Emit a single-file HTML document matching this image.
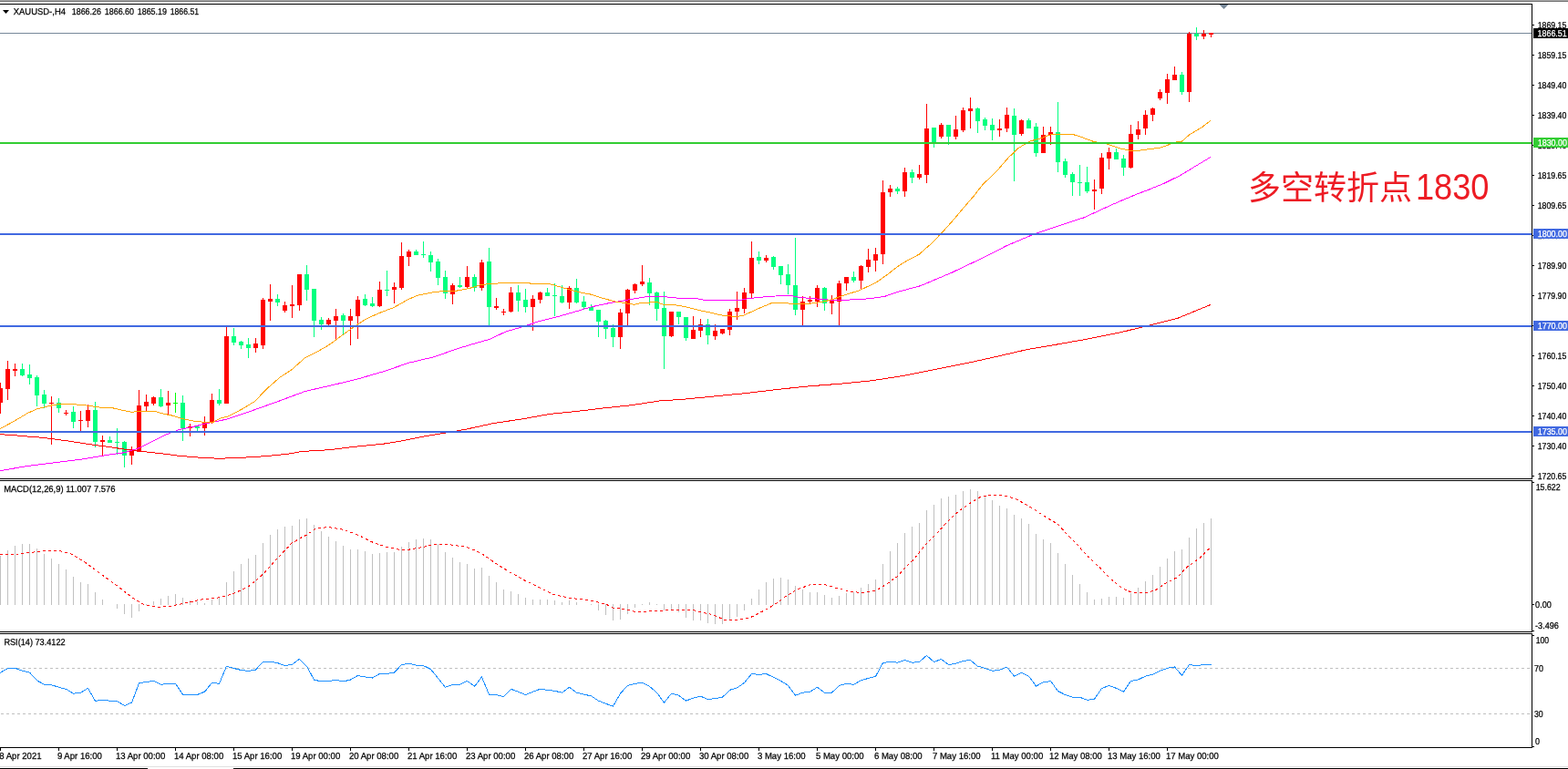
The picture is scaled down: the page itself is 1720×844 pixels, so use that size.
<!DOCTYPE html>
<html><head><meta charset="utf-8"><title>XAUUSD H4</title>
<style>html,body{margin:0;padding:0;background:#fff;width:1720px;height:844px;overflow:hidden}svg{display:block}</style>
</head><body>
<svg width="1720" height="844" viewBox="0 0 1720 844" shape-rendering="crispEdges">
<rect x="0" y="0" width="1720" height="844" fill="#FFFFFF"/>
<rect x="0" y="0" width="1720" height="1" fill="#A9A9A9"/>
<rect x="0" y="1" width="1720" height="1" fill="#707070"/>
<rect x="0" y="36" width="1680" height="1" fill="#778899"/>
<rect x="0" y="420" width="1" height="34" fill="#FF0000"/>
<rect x="0" y="426" width="3" height="16" fill="#FF0000"/>
<rect x="8" y="396" width="1" height="43" fill="#FF0000"/>
<rect x="6" y="405" width="5" height="22" fill="#FF0000"/>
<rect x="16" y="399" width="1" height="14" fill="#FF0000"/>
<rect x="14" y="405" width="5" height="2" fill="#FF0000"/>
<rect x="24" y="399" width="1" height="14" fill="#00FF7F"/>
<rect x="22" y="405" width="5" height="7" fill="#00FF7F"/>
<rect x="32" y="400" width="1" height="22" fill="#00FF7F"/>
<rect x="30" y="411" width="5" height="4" fill="#00FF7F"/>
<rect x="40" y="412" width="1" height="34" fill="#00FF7F"/>
<rect x="38" y="414" width="5" height="20" fill="#00FF7F"/>
<rect x="48" y="428" width="1" height="20" fill="#00FF7F"/>
<rect x="46" y="433" width="5" height="10" fill="#00FF7F"/>
<rect x="56" y="435" width="1" height="53" fill="#FF0000"/>
<rect x="54" y="442" width="5" height="1" fill="#FF0000"/>
<rect x="64" y="437" width="1" height="16" fill="#00FF7F"/>
<rect x="62" y="442" width="5" height="6" fill="#00FF7F"/>
<rect x="72" y="450" width="1" height="6" fill="#FF0000"/>
<rect x="70" y="453" width="5" height="1" fill="#FF0000"/>
<rect x="80" y="446" width="1" height="24" fill="#00FF7F"/>
<rect x="78" y="452" width="5" height="11" fill="#00FF7F"/>
<rect x="88" y="451" width="1" height="22" fill="#FF0000"/>
<rect x="86" y="461" width="5" height="1" fill="#FF0000"/>
<rect x="96" y="444" width="1" height="25" fill="#FF0000"/>
<rect x="94" y="450" width="5" height="12" fill="#FF0000"/>
<rect x="104" y="441" width="1" height="50" fill="#00FF7F"/>
<rect x="102" y="450" width="5" height="35" fill="#00FF7F"/>
<rect x="112" y="478" width="1" height="23" fill="#FF0000"/>
<rect x="110" y="483" width="5" height="2" fill="#FF0000"/>
<rect x="120" y="479" width="1" height="7" fill="#00FF7F"/>
<rect x="118" y="483" width="5" height="3" fill="#00FF7F"/>
<rect x="128" y="470" width="1" height="29" fill="#00FF7F"/>
<rect x="126" y="485" width="5" height="1" fill="#00FF7F"/>
<rect x="136" y="484" width="1" height="29" fill="#00FF7F"/>
<rect x="134" y="485" width="5" height="15" fill="#00FF7F"/>
<rect x="144" y="490" width="1" height="20" fill="#FF0000"/>
<rect x="142" y="494" width="5" height="6" fill="#FF0000"/>
<rect x="152" y="428" width="1" height="68" fill="#FF0000"/>
<rect x="150" y="445" width="5" height="51" fill="#FF0000"/>
<rect x="160" y="433" width="1" height="19" fill="#FF0000"/>
<rect x="158" y="441" width="5" height="5" fill="#FF0000"/>
<rect x="168" y="435" width="1" height="10" fill="#FF0000"/>
<rect x="166" y="436" width="5" height="7" fill="#FF0000"/>
<rect x="176" y="427" width="1" height="20" fill="#00FF7F"/>
<rect x="174" y="436" width="5" height="10" fill="#00FF7F"/>
<rect x="184" y="429" width="1" height="26" fill="#FF0000"/>
<rect x="182" y="442" width="5" height="3" fill="#FF0000"/>
<rect x="192" y="431" width="1" height="22" fill="#00FF00"/>
<rect x="190" y="442" width="5" height="1" fill="#00FF00"/>
<rect x="200" y="434" width="1" height="50" fill="#00FF7F"/>
<rect x="198" y="442" width="5" height="28" fill="#00FF7F"/>
<rect x="208" y="465" width="1" height="14" fill="#FF0000"/>
<rect x="206" y="468" width="5" height="2" fill="#FF0000"/>
<rect x="216" y="468" width="1" height="5" fill="#00FF7F"/>
<rect x="214" y="468" width="5" height="2" fill="#00FF7F"/>
<rect x="224" y="457" width="1" height="21" fill="#FF0000"/>
<rect x="222" y="464" width="5" height="6" fill="#FF0000"/>
<rect x="232" y="432" width="1" height="33" fill="#FF0000"/>
<rect x="230" y="439" width="5" height="25" fill="#FF0000"/>
<rect x="240" y="427" width="1" height="18" fill="#00FF7F"/>
<rect x="238" y="439" width="5" height="4" fill="#00FF7F"/>
<rect x="248" y="358" width="1" height="85" fill="#FF0000"/>
<rect x="246" y="369" width="5" height="74" fill="#FF0000"/>
<rect x="256" y="360" width="1" height="19" fill="#00FF7F"/>
<rect x="254" y="369" width="5" height="7" fill="#00FF7F"/>
<rect x="264" y="374" width="1" height="9" fill="#00FF7F"/>
<rect x="262" y="375" width="5" height="4" fill="#00FF7F"/>
<rect x="272" y="371" width="1" height="22" fill="#00FF7F"/>
<rect x="270" y="378" width="5" height="4" fill="#00FF7F"/>
<rect x="280" y="371" width="1" height="16" fill="#FF0000"/>
<rect x="278" y="377" width="5" height="5" fill="#FF0000"/>
<rect x="288" y="327" width="1" height="56" fill="#FF0000"/>
<rect x="286" y="329" width="5" height="50" fill="#FF0000"/>
<rect x="296" y="312" width="1" height="40" fill="#FF0000"/>
<rect x="294" y="328" width="5" height="3" fill="#FF0000"/>
<rect x="304" y="323" width="1" height="13" fill="#00FF7F"/>
<rect x="302" y="328" width="5" height="4" fill="#00FF7F"/>
<rect x="312" y="331" width="1" height="12" fill="#FF0000"/>
<rect x="310" y="335" width="5" height="6" fill="#FF0000"/>
<rect x="320" y="313" width="1" height="36" fill="#FF0000"/>
<rect x="318" y="334" width="5" height="2" fill="#FF0000"/>
<rect x="328" y="301" width="1" height="40" fill="#FF0000"/>
<rect x="326" y="301" width="5" height="34" fill="#FF0000"/>
<rect x="336" y="291" width="1" height="39" fill="#00FF7F"/>
<rect x="334" y="301" width="5" height="17" fill="#00FF7F"/>
<rect x="344" y="317" width="1" height="53" fill="#00FF7F"/>
<rect x="342" y="317" width="5" height="35" fill="#00FF7F"/>
<rect x="352" y="348" width="1" height="14" fill="#00FF7F"/>
<rect x="350" y="351" width="5" height="5" fill="#00FF7F"/>
<rect x="360" y="349" width="1" height="8" fill="#FF0000"/>
<rect x="358" y="351" width="5" height="5" fill="#FF0000"/>
<rect x="368" y="339" width="1" height="34" fill="#FF0000"/>
<rect x="366" y="347" width="5" height="5" fill="#FF0000"/>
<rect x="376" y="344" width="1" height="24" fill="#00FF7F"/>
<rect x="374" y="346" width="5" height="6" fill="#00FF7F"/>
<rect x="384" y="339" width="1" height="40" fill="#FF0000"/>
<rect x="382" y="347" width="5" height="5" fill="#FF0000"/>
<rect x="392" y="325" width="1" height="47" fill="#FF0000"/>
<rect x="390" y="329" width="5" height="18" fill="#FF0000"/>
<rect x="400" y="323" width="1" height="13" fill="#00FF7F"/>
<rect x="398" y="328" width="5" height="7" fill="#00FF7F"/>
<rect x="408" y="326" width="1" height="11" fill="#00FF7F"/>
<rect x="406" y="333" width="5" height="3" fill="#00FF7F"/>
<rect x="416" y="309" width="1" height="28" fill="#FF0000"/>
<rect x="414" y="318" width="5" height="18" fill="#FF0000"/>
<rect x="424" y="297" width="1" height="28" fill="#00FF7F"/>
<rect x="422" y="318" width="5" height="1" fill="#00FF7F"/>
<rect x="432" y="310" width="1" height="23" fill="#FF0000"/>
<rect x="430" y="315" width="5" height="3" fill="#FF0000"/>
<rect x="440" y="266" width="1" height="52" fill="#FF0000"/>
<rect x="438" y="281" width="5" height="35" fill="#FF0000"/>
<rect x="448" y="274" width="1" height="18" fill="#FF0000"/>
<rect x="446" y="276" width="5" height="6" fill="#FF0000"/>
<rect x="456" y="274" width="1" height="6" fill="#00FF7F"/>
<rect x="454" y="276" width="5" height="4" fill="#00FF7F"/>
<rect x="464" y="265" width="1" height="18" fill="#00FF7F"/>
<rect x="462" y="279" width="5" height="1" fill="#00FF7F"/>
<rect x="472" y="276" width="1" height="22" fill="#00FF7F"/>
<rect x="470" y="280" width="5" height="8" fill="#00FF7F"/>
<rect x="480" y="284" width="1" height="29" fill="#00FF7F"/>
<rect x="478" y="287" width="5" height="18" fill="#00FF7F"/>
<rect x="488" y="297" width="1" height="31" fill="#00FF7F"/>
<rect x="486" y="304" width="5" height="18" fill="#00FF7F"/>
<rect x="496" y="311" width="1" height="23" fill="#FF0000"/>
<rect x="494" y="313" width="5" height="10" fill="#FF0000"/>
<rect x="504" y="304" width="1" height="12" fill="#00FF7F"/>
<rect x="502" y="313" width="5" height="2" fill="#00FF7F"/>
<rect x="512" y="292" width="1" height="24" fill="#FF0000"/>
<rect x="510" y="304" width="5" height="11" fill="#FF0000"/>
<rect x="520" y="301" width="1" height="19" fill="#00FF7F"/>
<rect x="518" y="304" width="5" height="12" fill="#00FF7F"/>
<rect x="528" y="285" width="1" height="34" fill="#FF0000"/>
<rect x="526" y="288" width="5" height="28" fill="#FF0000"/>
<rect x="536" y="272" width="1" height="85" fill="#00FF7F"/>
<rect x="534" y="287" width="5" height="50" fill="#00FF7F"/>
<rect x="544" y="327" width="1" height="13" fill="#FF0000"/>
<rect x="542" y="336" width="5" height="2" fill="#FF0000"/>
<rect x="552" y="339" width="1" height="7" fill="#FF0000"/>
<rect x="550" y="342" width="5" height="1" fill="#FF0000"/>
<rect x="560" y="315" width="1" height="28" fill="#FF0000"/>
<rect x="558" y="321" width="5" height="21" fill="#FF0000"/>
<rect x="568" y="313" width="1" height="29" fill="#00FF7F"/>
<rect x="566" y="321" width="5" height="9" fill="#00FF7F"/>
<rect x="576" y="317" width="1" height="26" fill="#00FF7F"/>
<rect x="574" y="329" width="5" height="8" fill="#00FF7F"/>
<rect x="584" y="324" width="1" height="39" fill="#FF0000"/>
<rect x="582" y="328" width="5" height="9" fill="#FF0000"/>
<rect x="592" y="320" width="1" height="13" fill="#FF0000"/>
<rect x="590" y="321" width="5" height="8" fill="#FF0000"/>
<rect x="600" y="316" width="1" height="9" fill="#00FF7F"/>
<rect x="598" y="321" width="5" height="4" fill="#00FF7F"/>
<rect x="608" y="311" width="1" height="36" fill="#00FF7F"/>
<rect x="606" y="324" width="5" height="1" fill="#00FF7F"/>
<rect x="616" y="313" width="1" height="20" fill="#00FF7F"/>
<rect x="614" y="325" width="5" height="7" fill="#00FF7F"/>
<rect x="624" y="314" width="1" height="25" fill="#FF0000"/>
<rect x="622" y="316" width="5" height="16" fill="#FF0000"/>
<rect x="632" y="306" width="1" height="27" fill="#00FF7F"/>
<rect x="630" y="316" width="5" height="16" fill="#00FF7F"/>
<rect x="640" y="325" width="1" height="15" fill="#00FF7F"/>
<rect x="638" y="331" width="5" height="6" fill="#00FF7F"/>
<rect x="648" y="334" width="1" height="7" fill="#00FF7F"/>
<rect x="646" y="337" width="5" height="4" fill="#00FF7F"/>
<rect x="656" y="340" width="1" height="30" fill="#00FF7F"/>
<rect x="654" y="340" width="5" height="13" fill="#00FF7F"/>
<rect x="664" y="351" width="1" height="21" fill="#00FF7F"/>
<rect x="662" y="352" width="5" height="9" fill="#00FF7F"/>
<rect x="672" y="356" width="1" height="25" fill="#00FF7F"/>
<rect x="670" y="360" width="5" height="10" fill="#00FF7F"/>
<rect x="680" y="339" width="1" height="44" fill="#FF0000"/>
<rect x="678" y="343" width="5" height="27" fill="#FF0000"/>
<rect x="688" y="317" width="1" height="40" fill="#FF0000"/>
<rect x="686" y="318" width="5" height="26" fill="#FF0000"/>
<rect x="696" y="311" width="1" height="11" fill="#FF0000"/>
<rect x="694" y="312" width="5" height="7" fill="#FF0000"/>
<rect x="704" y="291" width="1" height="23" fill="#FF0000"/>
<rect x="702" y="309" width="5" height="3" fill="#FF0000"/>
<rect x="712" y="305" width="1" height="30" fill="#00FF7F"/>
<rect x="710" y="310" width="5" height="12" fill="#00FF7F"/>
<rect x="720" y="320" width="1" height="32" fill="#00FF7F"/>
<rect x="718" y="321" width="5" height="18" fill="#00FF7F"/>
<rect x="728" y="320" width="1" height="85" fill="#00FF7F"/>
<rect x="726" y="338" width="5" height="31" fill="#00FF7F"/>
<rect x="736" y="342" width="1" height="28" fill="#FF0000"/>
<rect x="734" y="342" width="5" height="27" fill="#FF0000"/>
<rect x="744" y="342" width="1" height="14" fill="#00FF7F"/>
<rect x="742" y="342" width="5" height="6" fill="#00FF7F"/>
<rect x="752" y="348" width="1" height="26" fill="#00FF7F"/>
<rect x="750" y="348" width="5" height="23" fill="#00FF7F"/>
<rect x="760" y="347" width="1" height="25" fill="#FF0000"/>
<rect x="758" y="362" width="5" height="10" fill="#FF0000"/>
<rect x="768" y="350" width="1" height="20" fill="#FF0000"/>
<rect x="766" y="356" width="5" height="7" fill="#FF0000"/>
<rect x="776" y="350" width="1" height="28" fill="#00FF7F"/>
<rect x="774" y="356" width="5" height="12" fill="#00FF7F"/>
<rect x="784" y="356" width="1" height="17" fill="#FF0000"/>
<rect x="782" y="363" width="5" height="6" fill="#FF0000"/>
<rect x="792" y="361" width="1" height="6" fill="#FF0000"/>
<rect x="790" y="361" width="5" height="5" fill="#FF0000"/>
<rect x="800" y="339" width="1" height="29" fill="#FF0000"/>
<rect x="798" y="342" width="5" height="20" fill="#FF0000"/>
<rect x="808" y="320" width="1" height="31" fill="#FF0000"/>
<rect x="806" y="338" width="5" height="4" fill="#FF0000"/>
<rect x="816" y="316" width="1" height="28" fill="#FF0000"/>
<rect x="814" y="321" width="5" height="18" fill="#FF0000"/>
<rect x="824" y="265" width="1" height="62" fill="#FF0000"/>
<rect x="822" y="283" width="5" height="39" fill="#FF0000"/>
<rect x="832" y="276" width="1" height="14" fill="#00FF7F"/>
<rect x="830" y="282" width="5" height="4" fill="#00FF7F"/>
<rect x="840" y="280" width="1" height="8" fill="#FF0000"/>
<rect x="838" y="283" width="5" height="3" fill="#FF0000"/>
<rect x="848" y="281" width="1" height="15" fill="#00FF7F"/>
<rect x="846" y="282" width="5" height="11" fill="#00FF7F"/>
<rect x="856" y="292" width="1" height="20" fill="#00FF7F"/>
<rect x="854" y="292" width="5" height="10" fill="#00FF7F"/>
<rect x="864" y="290" width="1" height="33" fill="#00FF7F"/>
<rect x="862" y="301" width="5" height="12" fill="#00FF7F"/>
<rect x="872" y="261" width="1" height="85" fill="#00FF7F"/>
<rect x="870" y="313" width="5" height="27" fill="#00FF7F"/>
<rect x="880" y="325" width="1" height="32" fill="#FF0000"/>
<rect x="878" y="331" width="5" height="9" fill="#FF0000"/>
<rect x="888" y="325" width="1" height="8" fill="#FF0000"/>
<rect x="886" y="329" width="5" height="2" fill="#FF0000"/>
<rect x="896" y="313" width="1" height="24" fill="#FF0000"/>
<rect x="894" y="316" width="5" height="15" fill="#FF0000"/>
<rect x="904" y="315" width="1" height="26" fill="#00FF7F"/>
<rect x="902" y="316" width="5" height="17" fill="#00FF7F"/>
<rect x="912" y="324" width="1" height="21" fill="#FF0000"/>
<rect x="910" y="329" width="5" height="4" fill="#FF0000"/>
<rect x="920" y="308" width="1" height="49" fill="#FF0000"/>
<rect x="918" y="311" width="5" height="20" fill="#FF0000"/>
<rect x="928" y="304" width="1" height="15" fill="#FF0000"/>
<rect x="926" y="304" width="5" height="7" fill="#FF0000"/>
<rect x="936" y="298" width="1" height="12" fill="#00FF7F"/>
<rect x="934" y="304" width="5" height="4" fill="#00FF7F"/>
<rect x="944" y="291" width="1" height="27" fill="#FF0000"/>
<rect x="942" y="292" width="5" height="16" fill="#FF0000"/>
<rect x="952" y="273" width="1" height="26" fill="#FF0000"/>
<rect x="950" y="285" width="5" height="8" fill="#FF0000"/>
<rect x="960" y="272" width="1" height="26" fill="#FF0000"/>
<rect x="958" y="279" width="5" height="7" fill="#FF0000"/>
<rect x="968" y="198" width="1" height="92" fill="#FF0000"/>
<rect x="966" y="211" width="5" height="68" fill="#FF0000"/>
<rect x="976" y="203" width="1" height="13" fill="#FF0000"/>
<rect x="974" y="207" width="5" height="4" fill="#FF0000"/>
<rect x="984" y="205" width="1" height="8" fill="#00FF7F"/>
<rect x="982" y="207" width="5" height="3" fill="#00FF7F"/>
<rect x="992" y="184" width="1" height="32" fill="#FF0000"/>
<rect x="990" y="189" width="5" height="21" fill="#FF0000"/>
<rect x="1000" y="186" width="1" height="15" fill="#00FF7F"/>
<rect x="998" y="189" width="5" height="6" fill="#00FF7F"/>
<rect x="1008" y="181" width="1" height="16" fill="#FF0000"/>
<rect x="1006" y="191" width="5" height="4" fill="#FF0000"/>
<rect x="1016" y="114" width="1" height="87" fill="#FF0000"/>
<rect x="1014" y="141" width="5" height="51" fill="#FF0000"/>
<rect x="1024" y="140" width="1" height="22" fill="#00FF7F"/>
<rect x="1022" y="140" width="5" height="16" fill="#00FF7F"/>
<rect x="1032" y="135" width="1" height="17" fill="#FF0000"/>
<rect x="1030" y="137" width="5" height="13" fill="#FF0000"/>
<rect x="1040" y="137" width="1" height="22" fill="#00FF7F"/>
<rect x="1038" y="137" width="5" height="13" fill="#00FF7F"/>
<rect x="1048" y="127" width="1" height="26" fill="#FF0000"/>
<rect x="1046" y="142" width="5" height="8" fill="#FF0000"/>
<rect x="1056" y="118" width="1" height="27" fill="#FF0000"/>
<rect x="1054" y="121" width="5" height="22" fill="#FF0000"/>
<rect x="1064" y="107" width="1" height="34" fill="#FF0000"/>
<rect x="1062" y="119" width="5" height="3" fill="#FF0000"/>
<rect x="1072" y="118" width="1" height="28" fill="#00FF7F"/>
<rect x="1070" y="119" width="5" height="14" fill="#00FF7F"/>
<rect x="1080" y="129" width="1" height="14" fill="#00FF7F"/>
<rect x="1078" y="131" width="5" height="7" fill="#00FF7F"/>
<rect x="1088" y="130" width="1" height="24" fill="#00FF7F"/>
<rect x="1086" y="137" width="5" height="6" fill="#00FF7F"/>
<rect x="1096" y="131" width="1" height="19" fill="#FF0000"/>
<rect x="1094" y="141" width="5" height="2" fill="#FF0000"/>
<rect x="1104" y="118" width="1" height="27" fill="#FF0000"/>
<rect x="1102" y="126" width="5" height="15" fill="#FF0000"/>
<rect x="1112" y="119" width="1" height="80" fill="#00FF7F"/>
<rect x="1110" y="127" width="5" height="21" fill="#00FF7F"/>
<rect x="1120" y="131" width="1" height="18" fill="#FF0000"/>
<rect x="1118" y="132" width="5" height="15" fill="#FF0000"/>
<rect x="1128" y="130" width="1" height="11" fill="#00FF7F"/>
<rect x="1126" y="132" width="5" height="9" fill="#00FF7F"/>
<rect x="1136" y="135" width="1" height="37" fill="#00FF7F"/>
<rect x="1134" y="139" width="5" height="29" fill="#00FF7F"/>
<rect x="1144" y="139" width="1" height="29" fill="#FF0000"/>
<rect x="1142" y="148" width="5" height="20" fill="#FF0000"/>
<rect x="1152" y="139" width="1" height="20" fill="#FF0000"/>
<rect x="1150" y="145" width="5" height="3" fill="#FF0000"/>
<rect x="1160" y="112" width="1" height="77" fill="#00FF7F"/>
<rect x="1158" y="145" width="5" height="33" fill="#00FF7F"/>
<rect x="1168" y="174" width="1" height="21" fill="#00FF7F"/>
<rect x="1166" y="177" width="5" height="15" fill="#00FF7F"/>
<rect x="1176" y="189" width="1" height="26" fill="#00FF7F"/>
<rect x="1174" y="191" width="5" height="9" fill="#00FF7F"/>
<rect x="1184" y="181" width="1" height="34" fill="#00FF7F"/>
<rect x="1182" y="200" width="5" height="1" fill="#00FF7F"/>
<rect x="1192" y="183" width="1" height="29" fill="#00FF7F"/>
<rect x="1190" y="200" width="5" height="10" fill="#00FF7F"/>
<rect x="1200" y="197" width="1" height="33" fill="#FF0000"/>
<rect x="1198" y="208" width="5" height="2" fill="#FF0000"/>
<rect x="1208" y="168" width="1" height="45" fill="#FF0000"/>
<rect x="1206" y="173" width="5" height="34" fill="#FF0000"/>
<rect x="1216" y="162" width="1" height="24" fill="#FF0000"/>
<rect x="1214" y="167" width="5" height="7" fill="#FF0000"/>
<rect x="1224" y="163" width="1" height="12" fill="#00FF7F"/>
<rect x="1222" y="167" width="5" height="8" fill="#00FF7F"/>
<rect x="1232" y="170" width="1" height="23" fill="#00FF7F"/>
<rect x="1230" y="174" width="5" height="10" fill="#00FF7F"/>
<rect x="1240" y="137" width="1" height="48" fill="#FF0000"/>
<rect x="1238" y="147" width="5" height="37" fill="#FF0000"/>
<rect x="1248" y="133" width="1" height="20" fill="#FF0000"/>
<rect x="1246" y="142" width="5" height="6" fill="#FF0000"/>
<rect x="1256" y="121" width="1" height="27" fill="#FF0000"/>
<rect x="1254" y="126" width="5" height="15" fill="#FF0000"/>
<rect x="1264" y="118" width="1" height="15" fill="#FF0000"/>
<rect x="1262" y="119" width="5" height="7" fill="#FF0000"/>
<rect x="1272" y="98" width="1" height="12" fill="#FF0000"/>
<rect x="1270" y="101" width="5" height="7" fill="#FF0000"/>
<rect x="1280" y="81" width="1" height="33" fill="#FF0000"/>
<rect x="1278" y="87" width="5" height="15" fill="#FF0000"/>
<rect x="1288" y="73" width="1" height="15" fill="#FF0000"/>
<rect x="1286" y="82" width="5" height="6" fill="#FF0000"/>
<rect x="1296" y="79" width="1" height="25" fill="#00FF7F"/>
<rect x="1294" y="82" width="5" height="19" fill="#00FF7F"/>
<rect x="1304" y="35" width="1" height="77" fill="#FF0000"/>
<rect x="1302" y="37" width="5" height="64" fill="#FF0000"/>
<rect x="1312" y="30" width="1" height="14" fill="#00FF7F"/>
<rect x="1310" y="37" width="5" height="3" fill="#00FF7F"/>
<rect x="1320" y="33" width="1" height="10" fill="#FF0000"/>
<rect x="1318" y="37" width="5" height="3" fill="#FF0000"/>
<rect x="1328" y="36" width="1" height="5" fill="#FF0000"/>
<rect x="1326" y="36" width="5" height="2" fill="#FF0000"/>
<polyline points="-1.00,476.63 0.00,476.70 15.00,477.70 30.00,479.00 45.00,480.20 60.00,482.00 76.00,484.20 91.00,486.50 106.00,488.80 121.00,490.70 136.00,493.00 151.00,494.80 166.00,496.60 181.00,498.20 197.00,500.40 212.00,501.60 227.00,502.80 242.00,503.20 267.00,502.20 291.00,500.70 316.00,498.20 331.00,495.50 361.00,493.70 391.00,490.10 421.00,487.10 440.00,484.00 467.00,478.60 491.00,474.70 512.00,471.00 542.00,464.40 573.00,459.90 603.00,454.40 633.00,451.40 663.00,447.80 693.00,444.70 724.00,439.90 750.00,438.20 784.00,434.90 819.00,431.50 853.00,427.40 887.00,423.90 922.00,421.20 956.00,417.80 990.00,412.60 1024.00,405.80 1059.00,398.90 1093.00,391.40 1127.00,383.50 1162.00,377.60 1196.00,371.50 1230.00,364.60 1265.00,356.00 1292.00,349.20 1328.00,334.40" fill="none" stroke="#FF0000" stroke-width="1"/>
<polyline points="-1.00,516.87 0.00,516.70 30.00,511.50 60.00,507.70 91.00,503.90 121.00,498.90 136.00,496.80 151.00,492.30 166.00,485.00 181.00,477.40 197.00,471.40 212.00,468.40 227.00,464.60 242.00,461.60 250.00,459.70 278.00,450.20 307.00,439.80 335.00,429.40 364.00,422.80 392.00,416.10 421.00,407.60 449.00,398.10 477.00,391.50 500.00,383.20 518.00,377.80 537.00,372.40 555.00,363.90 574.00,358.50 583.00,355.50 592.00,352.40 611.00,347.80 629.00,342.70 648.00,337.00 666.00,333.10 679.00,330.80 694.00,328.20 711.00,325.40 731.00,325.70 734.00,326.70 750.00,327.30 765.00,327.80 773.00,329.30 812.00,329.30 822.00,327.50 842.00,325.50 861.00,324.40 869.00,324.70 876.00,326.30 889.00,327.50 904.00,328.60 910.00,329.30 924.00,329.30 943.00,328.60 956.00,327.50 970.00,325.50 986.00,320.10 1010.00,313.60 1044.00,299.20 1076.00,284.00 1104.00,269.80 1133.00,257.50 1161.00,248.00 1190.00,238.50 1208.00,230.00 1227.00,221.50 1246.00,213.50 1261.00,207.80 1276.00,201.70 1295.00,192.40 1310.00,183.20 1328.00,172.40" fill="none" stroke="#FF00FF" stroke-width="1"/>
<polyline points="-1.00,471.13 0.00,470.60 15.00,462.60 30.00,453.60 40.00,449.00 50.00,446.50 60.00,444.20 70.00,443.10 80.00,443.70 91.00,444.50 100.00,445.70 110.00,447.20 121.00,447.20 131.00,449.50 145.00,452.50 151.00,451.30 160.00,451.30 169.00,451.30 181.00,454.50 190.00,456.30 200.00,459.60 212.00,462.00 221.00,463.00 233.00,463.80 242.00,459.00 250.00,456.90 265.00,449.30 279.00,440.80 294.00,425.60 307.00,414.20 320.00,405.70 335.00,392.40 350.00,384.90 360.00,379.20 373.00,369.70 388.00,358.90 402.00,349.80 417.00,343.20 432.00,337.50 447.00,329.00 458.00,324.20 474.00,321.00 489.00,319.10 500.00,319.30 515.00,316.50 528.00,312.30 540.00,311.60 557.00,310.00 580.00,310.00 582.00,311.30 603.00,311.60 611.00,313.90 623.00,317.40 636.00,320.80 648.00,323.10 660.00,327.00 676.00,331.30 685.00,332.40 696.00,334.40 703.00,332.40 716.00,331.90 720.00,331.30 728.00,334.40 740.00,334.70 750.00,336.30 765.00,340.10 781.00,343.50 793.00,346.30 809.00,347.50 816.00,346.00 832.00,338.60 847.00,332.40 870.00,333.20 889.00,333.20 904.00,330.90 913.00,328.60 924.00,324.70 943.00,318.60 961.00,310.10 973.00,301.60 986.00,291.60 996.00,285.40 1008.00,279.30 1021.00,267.90 1034.00,254.60 1045.00,242.30 1057.00,228.10 1068.00,215.40 1078.00,202.50 1093.00,188.30 1106.00,173.20 1117.00,162.70 1129.00,155.20 1140.00,152.30 1152.00,148.00 1163.00,147.20 1176.00,147.20 1186.00,150.40 1199.00,155.20 1214.00,158.00 1230.00,163.20 1239.00,165.20 1250.00,165.20 1261.00,163.60 1273.00,162.10 1284.00,158.10 1292.00,155.50 1296.00,155.50 1305.00,147.70 1319.00,139.30 1328.00,132.30" fill="none" stroke="#FFA500" stroke-width="1"/>
<rect x="0" y="156" width="1680" height="2" fill="#32CD32"/>
<rect x="0" y="256" width="1680" height="2" fill="#4169E1"/>
<rect x="0" y="357" width="1680" height="2" fill="#4169E1"/>
<rect x="0" y="473" width="1680" height="2" fill="#4169E1"/>
<polygon points="1337.5,5 1347.5,5 1342.5,10" fill="#778899" shape-rendering="auto"/>
<rect x="0" y="610" width="1" height="54" fill="#C0C0C0"/>
<rect x="8" y="604" width="1" height="60" fill="#C0C0C0"/>
<rect x="16" y="599" width="1" height="65" fill="#C0C0C0"/>
<rect x="24" y="597" width="1" height="67" fill="#C0C0C0"/>
<rect x="32" y="597" width="1" height="67" fill="#C0C0C0"/>
<rect x="40" y="602" width="1" height="62" fill="#C0C0C0"/>
<rect x="48" y="608" width="1" height="56" fill="#C0C0C0"/>
<rect x="56" y="613" width="1" height="51" fill="#C0C0C0"/>
<rect x="64" y="619" width="1" height="45" fill="#C0C0C0"/>
<rect x="72" y="625" width="1" height="39" fill="#C0C0C0"/>
<rect x="80" y="633" width="1" height="31" fill="#C0C0C0"/>
<rect x="88" y="639" width="1" height="25" fill="#C0C0C0"/>
<rect x="96" y="641" width="1" height="23" fill="#C0C0C0"/>
<rect x="104" y="650" width="1" height="14" fill="#C0C0C0"/>
<rect x="112" y="658" width="1" height="6" fill="#C0C0C0"/>
<rect x="128" y="663" width="1" height="5" fill="#C0C0C0"/>
<rect x="136" y="663" width="1" height="11" fill="#C0C0C0"/>
<rect x="144" y="663" width="1" height="15" fill="#C0C0C0"/>
<rect x="152" y="663" width="1" height="8" fill="#C0C0C0"/>
<rect x="160" y="663" width="1" height="1" fill="#C0C0C0"/>
<rect x="168" y="660" width="1" height="4" fill="#C0C0C0"/>
<rect x="176" y="657" width="1" height="7" fill="#C0C0C0"/>
<rect x="184" y="654" width="1" height="10" fill="#C0C0C0"/>
<rect x="192" y="652" width="1" height="12" fill="#C0C0C0"/>
<rect x="200" y="656" width="1" height="8" fill="#C0C0C0"/>
<rect x="208" y="659" width="1" height="5" fill="#C0C0C0"/>
<rect x="216" y="660" width="1" height="4" fill="#C0C0C0"/>
<rect x="224" y="662" width="1" height="2" fill="#C0C0C0"/>
<rect x="232" y="658" width="1" height="6" fill="#C0C0C0"/>
<rect x="240" y="656" width="1" height="8" fill="#C0C0C0"/>
<rect x="248" y="639" width="1" height="25" fill="#C0C0C0"/>
<rect x="256" y="627" width="1" height="37" fill="#C0C0C0"/>
<rect x="264" y="619" width="1" height="45" fill="#C0C0C0"/>
<rect x="272" y="613" width="1" height="51" fill="#C0C0C0"/>
<rect x="280" y="609" width="1" height="55" fill="#C0C0C0"/>
<rect x="288" y="596" width="1" height="68" fill="#C0C0C0"/>
<rect x="296" y="587" width="1" height="77" fill="#C0C0C0"/>
<rect x="304" y="581" width="1" height="83" fill="#C0C0C0"/>
<rect x="312" y="578" width="1" height="86" fill="#C0C0C0"/>
<rect x="320" y="577" width="1" height="87" fill="#C0C0C0"/>
<rect x="328" y="570" width="1" height="94" fill="#C0C0C0"/>
<rect x="336" y="569" width="1" height="95" fill="#C0C0C0"/>
<rect x="344" y="576" width="1" height="88" fill="#C0C0C0"/>
<rect x="352" y="583" width="1" height="81" fill="#C0C0C0"/>
<rect x="360" y="589" width="1" height="75" fill="#C0C0C0"/>
<rect x="368" y="594" width="1" height="70" fill="#C0C0C0"/>
<rect x="376" y="599" width="1" height="65" fill="#C0C0C0"/>
<rect x="384" y="603" width="1" height="61" fill="#C0C0C0"/>
<rect x="392" y="603" width="1" height="61" fill="#C0C0C0"/>
<rect x="400" y="605" width="1" height="59" fill="#C0C0C0"/>
<rect x="408" y="608" width="1" height="56" fill="#C0C0C0"/>
<rect x="416" y="607" width="1" height="57" fill="#C0C0C0"/>
<rect x="424" y="606" width="1" height="58" fill="#C0C0C0"/>
<rect x="432" y="606" width="1" height="58" fill="#C0C0C0"/>
<rect x="440" y="600" width="1" height="64" fill="#C0C0C0"/>
<rect x="448" y="595" width="1" height="69" fill="#C0C0C0"/>
<rect x="456" y="592" width="1" height="72" fill="#C0C0C0"/>
<rect x="464" y="591" width="1" height="73" fill="#C0C0C0"/>
<rect x="472" y="592" width="1" height="72" fill="#C0C0C0"/>
<rect x="480" y="597" width="1" height="67" fill="#C0C0C0"/>
<rect x="488" y="606" width="1" height="58" fill="#C0C0C0"/>
<rect x="496" y="612" width="1" height="52" fill="#C0C0C0"/>
<rect x="504" y="617" width="1" height="47" fill="#C0C0C0"/>
<rect x="512" y="619" width="1" height="45" fill="#C0C0C0"/>
<rect x="520" y="624" width="1" height="40" fill="#C0C0C0"/>
<rect x="528" y="623" width="1" height="41" fill="#C0C0C0"/>
<rect x="536" y="632" width="1" height="32" fill="#C0C0C0"/>
<rect x="544" y="639" width="1" height="25" fill="#C0C0C0"/>
<rect x="552" y="647" width="1" height="17" fill="#C0C0C0"/>
<rect x="560" y="649" width="1" height="15" fill="#C0C0C0"/>
<rect x="568" y="652" width="1" height="12" fill="#C0C0C0"/>
<rect x="576" y="656" width="1" height="8" fill="#C0C0C0"/>
<rect x="584" y="658" width="1" height="6" fill="#C0C0C0"/>
<rect x="592" y="658" width="1" height="6" fill="#C0C0C0"/>
<rect x="600" y="658" width="1" height="6" fill="#C0C0C0"/>
<rect x="608" y="659" width="1" height="5" fill="#C0C0C0"/>
<rect x="616" y="661" width="1" height="3" fill="#C0C0C0"/>
<rect x="624" y="659" width="1" height="5" fill="#C0C0C0"/>
<rect x="632" y="661" width="1" height="3" fill="#C0C0C0"/>
<rect x="648" y="663" width="1" height="1" fill="#C0C0C0"/>
<rect x="656" y="663" width="1" height="7" fill="#C0C0C0"/>
<rect x="664" y="663" width="1" height="12" fill="#C0C0C0"/>
<rect x="672" y="663" width="1" height="18" fill="#C0C0C0"/>
<rect x="680" y="663" width="1" height="17" fill="#C0C0C0"/>
<rect x="688" y="663" width="1" height="11" fill="#C0C0C0"/>
<rect x="696" y="663" width="1" height="4" fill="#C0C0C0"/>
<rect x="704" y="663" width="1" height="1" fill="#C0C0C0"/>
<rect x="712" y="661" width="1" height="3" fill="#C0C0C0"/>
<rect x="720" y="663" width="1" height="1" fill="#C0C0C0"/>
<rect x="728" y="663" width="1" height="7" fill="#C0C0C0"/>
<rect x="736" y="663" width="1" height="7" fill="#C0C0C0"/>
<rect x="744" y="663" width="1" height="9" fill="#C0C0C0"/>
<rect x="752" y="663" width="1" height="15" fill="#C0C0C0"/>
<rect x="760" y="663" width="1" height="18" fill="#C0C0C0"/>
<rect x="768" y="663" width="1" height="18" fill="#C0C0C0"/>
<rect x="776" y="663" width="1" height="21" fill="#C0C0C0"/>
<rect x="784" y="663" width="1" height="22" fill="#C0C0C0"/>
<rect x="792" y="663" width="1" height="22" fill="#C0C0C0"/>
<rect x="800" y="663" width="1" height="18" fill="#C0C0C0"/>
<rect x="808" y="663" width="1" height="14" fill="#C0C0C0"/>
<rect x="816" y="663" width="1" height="7" fill="#C0C0C0"/>
<rect x="824" y="657" width="1" height="7" fill="#C0C0C0"/>
<rect x="832" y="647" width="1" height="17" fill="#C0C0C0"/>
<rect x="840" y="639" width="1" height="25" fill="#C0C0C0"/>
<rect x="848" y="635" width="1" height="29" fill="#C0C0C0"/>
<rect x="856" y="634" width="1" height="30" fill="#C0C0C0"/>
<rect x="864" y="636" width="1" height="28" fill="#C0C0C0"/>
<rect x="872" y="643" width="1" height="21" fill="#C0C0C0"/>
<rect x="880" y="647" width="1" height="17" fill="#C0C0C0"/>
<rect x="888" y="650" width="1" height="14" fill="#C0C0C0"/>
<rect x="896" y="650" width="1" height="14" fill="#C0C0C0"/>
<rect x="904" y="653" width="1" height="11" fill="#C0C0C0"/>
<rect x="912" y="656" width="1" height="8" fill="#C0C0C0"/>
<rect x="920" y="654" width="1" height="10" fill="#C0C0C0"/>
<rect x="928" y="651" width="1" height="13" fill="#C0C0C0"/>
<rect x="936" y="650" width="1" height="14" fill="#C0C0C0"/>
<rect x="944" y="645" width="1" height="19" fill="#C0C0C0"/>
<rect x="952" y="641" width="1" height="23" fill="#C0C0C0"/>
<rect x="960" y="636" width="1" height="28" fill="#C0C0C0"/>
<rect x="968" y="619" width="1" height="45" fill="#C0C0C0"/>
<rect x="976" y="605" width="1" height="59" fill="#C0C0C0"/>
<rect x="984" y="596" width="1" height="68" fill="#C0C0C0"/>
<rect x="992" y="585" width="1" height="79" fill="#C0C0C0"/>
<rect x="1000" y="578" width="1" height="86" fill="#C0C0C0"/>
<rect x="1008" y="574" width="1" height="90" fill="#C0C0C0"/>
<rect x="1016" y="560" width="1" height="104" fill="#C0C0C0"/>
<rect x="1024" y="554" width="1" height="110" fill="#C0C0C0"/>
<rect x="1032" y="547" width="1" height="117" fill="#C0C0C0"/>
<rect x="1040" y="545" width="1" height="119" fill="#C0C0C0"/>
<rect x="1048" y="543" width="1" height="121" fill="#C0C0C0"/>
<rect x="1056" y="539" width="1" height="125" fill="#C0C0C0"/>
<rect x="1064" y="537" width="1" height="127" fill="#C0C0C0"/>
<rect x="1072" y="539" width="1" height="125" fill="#C0C0C0"/>
<rect x="1080" y="545" width="1" height="119" fill="#C0C0C0"/>
<rect x="1088" y="549" width="1" height="115" fill="#C0C0C0"/>
<rect x="1096" y="555" width="1" height="109" fill="#C0C0C0"/>
<rect x="1104" y="558" width="1" height="106" fill="#C0C0C0"/>
<rect x="1112" y="565" width="1" height="99" fill="#C0C0C0"/>
<rect x="1120" y="569" width="1" height="95" fill="#C0C0C0"/>
<rect x="1128" y="575" width="1" height="89" fill="#C0C0C0"/>
<rect x="1136" y="586" width="1" height="78" fill="#C0C0C0"/>
<rect x="1144" y="592" width="1" height="72" fill="#C0C0C0"/>
<rect x="1152" y="596" width="1" height="68" fill="#C0C0C0"/>
<rect x="1160" y="607" width="1" height="57" fill="#C0C0C0"/>
<rect x="1168" y="619" width="1" height="45" fill="#C0C0C0"/>
<rect x="1176" y="631" width="1" height="33" fill="#C0C0C0"/>
<rect x="1184" y="641" width="1" height="23" fill="#C0C0C0"/>
<rect x="1192" y="650" width="1" height="14" fill="#C0C0C0"/>
<rect x="1200" y="658" width="1" height="6" fill="#C0C0C0"/>
<rect x="1208" y="657" width="1" height="7" fill="#C0C0C0"/>
<rect x="1216" y="655" width="1" height="9" fill="#C0C0C0"/>
<rect x="1224" y="655" width="1" height="9" fill="#C0C0C0"/>
<rect x="1232" y="656" width="1" height="8" fill="#C0C0C0"/>
<rect x="1240" y="651" width="1" height="13" fill="#C0C0C0"/>
<rect x="1248" y="645" width="1" height="19" fill="#C0C0C0"/>
<rect x="1256" y="638" width="1" height="26" fill="#C0C0C0"/>
<rect x="1264" y="631" width="1" height="33" fill="#C0C0C0"/>
<rect x="1272" y="622" width="1" height="42" fill="#C0C0C0"/>
<rect x="1280" y="613" width="1" height="51" fill="#C0C0C0"/>
<rect x="1288" y="605" width="1" height="59" fill="#C0C0C0"/>
<rect x="1296" y="603" width="1" height="61" fill="#C0C0C0"/>
<rect x="1304" y="590" width="1" height="74" fill="#C0C0C0"/>
<rect x="1312" y="580" width="1" height="84" fill="#C0C0C0"/>
<rect x="1320" y="574" width="1" height="90" fill="#C0C0C0"/>
<rect x="1328" y="569" width="1" height="95" fill="#C0C0C0"/>
<polyline points="-0.50,608.00 0.00,608.00 20.00,608.00 40.00,605.70 49.00,604.10 65.00,604.50 79.00,608.40 93.00,617.00 109.00,628.80 128.00,642.60 146.00,656.50 158.00,663.40 174.00,666.40 186.00,665.40 198.00,663.00 210.00,660.40 223.00,657.50 237.00,656.50 255.00,652.10 273.00,643.60 289.00,629.80 304.00,613.00 320.00,596.20 330.00,590.30 336.00,587.30 346.00,580.40 360.00,578.40 377.00,581.40 393.00,587.30 409.00,595.20 423.00,600.10 437.00,603.10 449.00,603.10 464.00,600.50 476.00,597.60 492.00,597.60 512.00,600.50 528.00,607.10 543.00,617.90 559.00,627.80 575.00,636.70 591.00,644.60 607.00,652.50 623.00,655.90 638.00,657.90 654.00,660.40 666.00,663.80 672.00,667.00 684.00,668.30 696.00,671.30 707.00,671.30 719.00,670.30 739.00,669.70 759.00,669.30 771.00,672.30 783.00,674.90 794.00,680.20 810.00,680.20 822.00,678.20 838.00,670.30 850.00,663.40 862.00,654.50 873.00,647.60 889.00,641.60 905.00,641.60 917.00,645.20 933.00,649.20 945.00,650.50 960.00,648.60 972.00,641.60 984.00,632.80 996.00,619.90 1002.00,614.50 1014.00,599.20 1027.00,586.00 1039.00,572.80 1051.00,561.60 1063.00,553.00 1075.00,545.70 1088.00,543.30 1104.00,544.30 1116.00,548.40 1132.00,557.50 1145.00,566.10 1161.00,575.80 1169.00,585.00 1181.00,597.20 1193.00,610.40 1206.00,622.60 1218.00,634.90 1230.00,645.00 1240.00,649.70 1255.00,651.10 1267.00,648.10 1279.00,639.90 1291.00,633.80 1303.00,621.60 1316.00,612.50 1328.00,600.50" fill="none" stroke="#FF0000" stroke-width="1" stroke-dasharray="3,3"/>
<line x1="1" y1="733.5" x2="1680" y2="733.5" stroke="#C0C0C0" stroke-width="1" stroke-dasharray="3,3"/>
<line x1="1" y1="783.5" x2="1680" y2="783.5" stroke="#C0C0C0" stroke-width="1" stroke-dasharray="3,3"/>
<polyline points="-0.50,738.90 0.50,738.30 8.50,733.50 16.50,733.30 24.50,736.10 32.50,738.10 40.50,746.80 48.50,751.30 56.50,751.70 64.50,754.30 72.50,756.30 80.50,761.20 88.50,760.20 96.50,755.30 104.50,769.30 112.50,768.50 120.50,769.10 128.50,769.50 136.50,774.50 144.50,771.10 152.50,750.00 160.50,748.40 168.50,747.40 176.50,751.30 184.50,750.30 192.50,750.30 200.50,762.20 208.50,762.40 216.50,762.40 224.50,759.20 232.50,749.40 240.50,750.30 248.50,731.20 256.50,733.50 264.50,735.50 272.50,736.50 280.50,735.10 288.50,726.20 296.50,726.20 304.50,727.60 312.50,730.60 320.50,729.20 328.50,723.30 336.50,731.20 344.50,746.00 352.50,748.00 360.50,747.40 368.50,746.40 376.50,748.00 384.50,746.00 392.50,741.50 400.50,743.00 408.50,744.00 416.50,739.50 424.50,739.50 432.50,738.10 440.50,729.60 448.50,728.20 456.50,730.20 464.50,730.60 472.50,734.50 480.50,744.40 488.50,754.30 496.50,751.30 504.50,751.30 512.50,747.40 520.50,753.30 528.50,743.00 536.50,762.20 544.50,762.60 552.50,764.60 560.50,756.30 568.50,759.20 576.50,762.60 584.50,759.20 592.50,756.30 600.50,757.30 608.50,758.30 616.50,760.20 624.50,754.30 632.50,760.20 640.50,762.20 648.50,763.80 656.50,769.10 664.50,772.30 672.50,775.10 680.50,761.20 688.50,752.30 696.50,750.30 704.50,749.40 712.50,753.30 720.50,760.20 728.50,771.10 736.50,761.20 744.50,763.20 752.50,769.10 760.50,766.20 768.50,764.20 776.50,767.50 784.50,766.60 792.50,765.20 800.50,757.30 808.50,754.90 816.50,749.40 824.50,739.50 832.50,740.50 840.50,739.50 848.50,743.40 856.50,747.40 864.50,752.30 872.50,763.20 880.50,760.20 888.50,759.20 896.50,754.30 904.50,760.20 912.50,760.20 920.50,752.30 928.50,750.30 936.50,751.30 944.50,746.80 952.50,744.40 960.50,742.40 968.50,727.60 976.50,726.20 984.50,727.20 992.50,724.40 1000.50,727.20 1008.50,726.50 1016.50,719.40 1024.50,726.50 1032.50,723.50 1040.50,729.60 1048.50,728.20 1056.50,725.50 1064.50,724.50 1072.50,731.20 1080.50,733.30 1088.50,736.30 1096.50,735.30 1104.50,732.20 1112.50,742.20 1120.50,738.30 1128.50,742.20 1136.50,753.00 1144.50,748.90 1152.50,747.50 1160.50,758.50 1168.50,762.60 1176.50,765.20 1184.50,765.20 1192.50,768.30 1200.50,767.20 1208.50,755.60 1216.50,752.40 1224.50,755.40 1232.50,759.10 1240.50,747.50 1248.50,745.90 1256.50,742.20 1264.50,740.20 1272.50,736.30 1280.50,733.30 1288.50,732.00 1296.50,741.20 1304.50,729.60 1312.50,730.60 1320.50,729.60 1328.50,729.60" fill="none" stroke="#1E90FF" stroke-width="1"/>
<rect x="0" y="4" width="1681" height="1" fill="#000"/>
<rect x="0" y="525" width="1681" height="1" fill="#000"/>
<rect x="1680" y="4" width="1" height="522" fill="#000"/>
<rect x="0" y="527" width="1681" height="1" fill="#000"/>
<rect x="0" y="693" width="1681" height="1" fill="#000"/>
<rect x="1680" y="527" width="1" height="167" fill="#000"/>
<rect x="0" y="695" width="1681" height="1" fill="#000"/>
<rect x="0" y="820" width="1681" height="1" fill="#000"/>
<rect x="1680" y="695" width="1" height="126" fill="#000"/>
<rect x="1681" y="27" width="2" height="1" fill="#000"/>
<rect x="1681" y="60" width="2" height="1" fill="#000"/>
<rect x="1681" y="93" width="2" height="1" fill="#000"/>
<rect x="1681" y="126" width="2" height="1" fill="#000"/>
<rect x="1681" y="159" width="2" height="1" fill="#000"/>
<rect x="1681" y="192" width="2" height="1" fill="#000"/>
<rect x="1681" y="225" width="2" height="1" fill="#000"/>
<rect x="1681" y="258" width="2" height="1" fill="#000"/>
<rect x="1681" y="291" width="2" height="1" fill="#000"/>
<rect x="1681" y="324" width="2" height="1" fill="#000"/>
<rect x="1681" y="357" width="2" height="1" fill="#000"/>
<rect x="1681" y="390" width="2" height="1" fill="#000"/>
<rect x="1681" y="423" width="2" height="1" fill="#000"/>
<rect x="1681" y="456" width="2" height="1" fill="#000"/>
<rect x="1681" y="489" width="2" height="1" fill="#000"/>
<rect x="1681" y="522" width="2" height="1" fill="#000"/>
<rect x="1681" y="529" width="2" height="1" fill="#000"/>
<rect x="1681" y="663" width="2" height="1" fill="#000"/>
<rect x="1681" y="692" width="2" height="1" fill="#000"/>
<rect x="1681" y="697" width="2" height="1" fill="#000"/>
<rect x="1681" y="819" width="2" height="1" fill="#000"/>
<rect x="0" y="821" width="1" height="3" fill="#000"/>
<rect x="64" y="821" width="1" height="3" fill="#000"/>
<rect x="128" y="821" width="1" height="3" fill="#000"/>
<rect x="192" y="821" width="1" height="3" fill="#000"/>
<rect x="256" y="821" width="1" height="3" fill="#000"/>
<rect x="320" y="821" width="1" height="3" fill="#000"/>
<rect x="384" y="821" width="1" height="3" fill="#000"/>
<rect x="448" y="821" width="1" height="3" fill="#000"/>
<rect x="512" y="821" width="1" height="3" fill="#000"/>
<rect x="576" y="821" width="1" height="3" fill="#000"/>
<rect x="640" y="821" width="1" height="3" fill="#000"/>
<rect x="704" y="821" width="1" height="3" fill="#000"/>
<rect x="768" y="821" width="1" height="3" fill="#000"/>
<rect x="832" y="821" width="1" height="3" fill="#000"/>
<rect x="896" y="821" width="1" height="3" fill="#000"/>
<rect x="960" y="821" width="1" height="3" fill="#000"/>
<rect x="1024" y="821" width="1" height="3" fill="#000"/>
<rect x="1088" y="821" width="1" height="3" fill="#000"/>
<rect x="1152" y="821" width="1" height="3" fill="#000"/>
<rect x="1216" y="821" width="1" height="3" fill="#000"/>
<rect x="1280" y="821" width="1" height="3" fill="#000"/>
<rect x="0" y="841" width="1720" height="1" fill="#E0E0E0"/>
<rect x="0" y="843" width="162" height="1" fill="#000"/>
<rect x="256" y="843" width="1464" height="1" fill="#000"/>
<polygon points="3,11 10,11 6.5,15" fill="#000" shape-rendering="auto"/>
<g font-size="10.0" style="font-family:'Liberation Sans',Arial,sans-serif;text-rendering:geometricPrecision" stroke-width="0.25" shape-rendering="auto"><text x="1686.70" y="31" fill="#000" stroke="#000" textLength="31.60" lengthAdjust="spacingAndGlyphs">1869.15</text><text x="1686.70" y="64" fill="#000" stroke="#000" textLength="31.60" lengthAdjust="spacingAndGlyphs">1859.15</text><text x="1686.70" y="97" fill="#000" stroke="#000" textLength="31.60" lengthAdjust="spacingAndGlyphs">1849.40</text><text x="1686.70" y="130" fill="#000" stroke="#000" textLength="31.60" lengthAdjust="spacingAndGlyphs">1839.40</text><text x="1686.70" y="163" fill="#000" stroke="#000" textLength="31.60" lengthAdjust="spacingAndGlyphs">1829.40</text><text x="1686.70" y="196" fill="#000" stroke="#000" textLength="31.60" lengthAdjust="spacingAndGlyphs">1819.65</text><text x="1686.70" y="229" fill="#000" stroke="#000" textLength="31.60" lengthAdjust="spacingAndGlyphs">1809.65</text><text x="1686.70" y="262" fill="#000" stroke="#000" textLength="31.60" lengthAdjust="spacingAndGlyphs">1799.65</text><text x="1686.70" y="295" fill="#000" stroke="#000" textLength="31.60" lengthAdjust="spacingAndGlyphs">1789.90</text><text x="1686.70" y="328" fill="#000" stroke="#000" textLength="31.60" lengthAdjust="spacingAndGlyphs">1779.90</text><text x="1686.70" y="361" fill="#000" stroke="#000" textLength="31.60" lengthAdjust="spacingAndGlyphs">1770.15</text><text x="1686.70" y="394" fill="#000" stroke="#000" textLength="31.60" lengthAdjust="spacingAndGlyphs">1760.15</text><text x="1686.70" y="427" fill="#000" stroke="#000" textLength="31.60" lengthAdjust="spacingAndGlyphs">1750.40</text><text x="1686.70" y="460" fill="#000" stroke="#000" textLength="31.60" lengthAdjust="spacingAndGlyphs">1740.40</text><text x="1686.70" y="493" fill="#000" stroke="#000" textLength="31.60" lengthAdjust="spacingAndGlyphs">1730.40</text><text x="1686.70" y="526" fill="#000" stroke="#000" textLength="31.60" lengthAdjust="spacingAndGlyphs">1720.65</text><text x="1684.70" y="538" fill="#000" stroke="#000" textLength="27.00" lengthAdjust="spacingAndGlyphs">15.622</text><text x="1684.10" y="667" fill="#000" stroke="#000" textLength="17.70" lengthAdjust="spacingAndGlyphs">0.00</text><text x="1684.10" y="690" fill="#000" stroke="#000" textLength="25.80" lengthAdjust="spacingAndGlyphs">-3.496</text><text x="1684.70" y="706" fill="#000" stroke="#000" textLength="14.40" lengthAdjust="spacingAndGlyphs">100</text><text x="1683.00" y="737" fill="#000" stroke="#000" textLength="10.00" lengthAdjust="spacingAndGlyphs">70</text><text x="1683.00" y="787" fill="#000" stroke="#000" textLength="9.70" lengthAdjust="spacingAndGlyphs">30</text><text x="1684.10" y="817" fill="#000" stroke="#000" textLength="5.00" lengthAdjust="spacingAndGlyphs">0</text><text x="-0.80" y="833" fill="#000" stroke="#000" textLength="46.34" lengthAdjust="spacingAndGlyphs">8 Apr 2021</text><text x="62.90" y="833" fill="#000" stroke="#000" textLength="49.00" lengthAdjust="spacingAndGlyphs">9 Apr 16:00</text><text x="126.90" y="833" fill="#000" stroke="#000" textLength="54.33" lengthAdjust="spacingAndGlyphs">13 Apr 00:00</text><text x="190.90" y="833" fill="#000" stroke="#000" textLength="54.33" lengthAdjust="spacingAndGlyphs">14 Apr 08:00</text><text x="254.90" y="833" fill="#000" stroke="#000" textLength="54.33" lengthAdjust="spacingAndGlyphs">15 Apr 16:00</text><text x="318.90" y="833" fill="#000" stroke="#000" textLength="54.33" lengthAdjust="spacingAndGlyphs">19 Apr 00:00</text><text x="382.90" y="833" fill="#000" stroke="#000" textLength="54.33" lengthAdjust="spacingAndGlyphs">20 Apr 08:00</text><text x="446.90" y="833" fill="#000" stroke="#000" textLength="54.33" lengthAdjust="spacingAndGlyphs">21 Apr 16:00</text><text x="510.90" y="833" fill="#000" stroke="#000" textLength="54.33" lengthAdjust="spacingAndGlyphs">23 Apr 00:00</text><text x="574.90" y="833" fill="#000" stroke="#000" textLength="54.33" lengthAdjust="spacingAndGlyphs">26 Apr 08:00</text><text x="638.90" y="833" fill="#000" stroke="#000" textLength="54.33" lengthAdjust="spacingAndGlyphs">27 Apr 16:00</text><text x="702.90" y="833" fill="#000" stroke="#000" textLength="54.33" lengthAdjust="spacingAndGlyphs">29 Apr 00:00</text><text x="766.90" y="833" fill="#000" stroke="#000" textLength="54.33" lengthAdjust="spacingAndGlyphs">30 Apr 08:00</text><text x="830.90" y="833" fill="#000" stroke="#000" textLength="52.72" lengthAdjust="spacingAndGlyphs">3 May 16:00</text><text x="894.90" y="833" fill="#000" stroke="#000" textLength="52.72" lengthAdjust="spacingAndGlyphs">5 May 00:00</text><text x="958.90" y="833" fill="#000" stroke="#000" textLength="52.72" lengthAdjust="spacingAndGlyphs">6 May 08:00</text><text x="1022.90" y="833" fill="#000" stroke="#000" textLength="52.72" lengthAdjust="spacingAndGlyphs">7 May 16:00</text><text x="1086.90" y="833" fill="#000" stroke="#000" textLength="57.34" lengthAdjust="spacingAndGlyphs">11 May 00:00</text><text x="1150.90" y="833" fill="#000" stroke="#000" textLength="58.05" lengthAdjust="spacingAndGlyphs">12 May 08:00</text><text x="1214.90" y="833" fill="#000" stroke="#000" textLength="58.05" lengthAdjust="spacingAndGlyphs">13 May 16:00</text><text x="1278.90" y="833" fill="#000" stroke="#000" textLength="58.05" lengthAdjust="spacingAndGlyphs">17 May 00:00</text><text x="14.70" y="16" fill="#000" stroke="#000" textLength="57.30" lengthAdjust="spacingAndGlyphs">XAUUSD-,H4</text><text x="78.80" y="16" fill="#000" stroke="#000" textLength="32.10" lengthAdjust="spacingAndGlyphs">1866.26</text><text x="114.80" y="16" fill="#000" stroke="#000" textLength="32.20" lengthAdjust="spacingAndGlyphs">1866.60</text><text x="150.70" y="16" fill="#000" stroke="#000" textLength="32.30" lengthAdjust="spacingAndGlyphs">1865.19</text><text x="186.70" y="16" fill="#000" stroke="#000" textLength="31.40" lengthAdjust="spacingAndGlyphs">1866.51</text><text x="4.20" y="540" fill="#000" stroke="#000" textLength="122.30" lengthAdjust="spacingAndGlyphs">MACD(12,26,9) 11.007 7.576</text><text x="4.40" y="708" fill="#000" stroke="#000" textLength="67.20" lengthAdjust="spacingAndGlyphs">RSI(14) 73.4122</text></g>
<rect x="1682" y="31" width="38" height="11" fill="#000"/>
<rect x="1682" y="151" width="38" height="11" fill="#32CD32"/>
<rect x="1682" y="251" width="38" height="11" fill="#4169E1"/>
<rect x="1682" y="352" width="38" height="11" fill="#4169E1"/>
<rect x="1682" y="468" width="38" height="11" fill="#4169E1"/>
<g font-size="10.0" style="font-family:'Liberation Sans',Arial,sans-serif;text-rendering:geometricPrecision" stroke-width="0.25" shape-rendering="auto"><text x="1686.50" y="40" fill="#FFFFFF" stroke="#FFFFFF" textLength="32.30" lengthAdjust="spacingAndGlyphs">1866.51</text><text x="1686.70" y="160" fill="#FFFFFF" stroke="#FFFFFF" textLength="32.30" lengthAdjust="spacingAndGlyphs">1830.00</text><text x="1686.70" y="260" fill="#FFFFFF" stroke="#FFFFFF" textLength="32.30" lengthAdjust="spacingAndGlyphs">1800.00</text><text x="1686.70" y="361" fill="#FFFFFF" stroke="#FFFFFF" textLength="32.30" lengthAdjust="spacingAndGlyphs">1770.00</text><text x="1686.70" y="477" fill="#FFFFFF" stroke="#FFFFFF" textLength="32.30" lengthAdjust="spacingAndGlyphs">1735.00</text></g>
<text x="1369" y="219" font-size="36" fill="#ED1C24" shape-rendering="auto" style="font-family:'Liberation Sans','Noto Sans CJK SC',sans-serif">多空转折点</text>
<text x="1552.90" y="219" font-size="41.4" fill="#ED1C24" textLength="80.59" lengthAdjust="spacingAndGlyphs" shape-rendering="auto" style="font-family:'Liberation Sans',sans-serif">1830</text>
</svg>
</body></html>
